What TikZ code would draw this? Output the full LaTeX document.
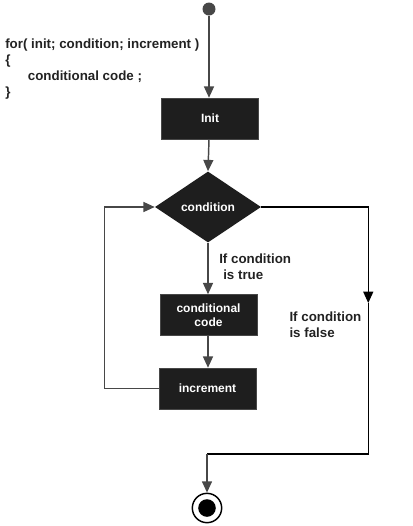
\documentclass[tikz,border=0pt]{standalone}
\usepackage{fontspec}
\setmainfont{Liberation Sans}
\usetikzlibrary{arrows.meta, shapes.geometric, calc}
\definecolor{boxgray}{HTML}{1E1E1E}
\definecolor{wiregray}{HTML}{474747}
\definecolor{textgray}{HTML}{222222}
\tikzset{
    my-box/.style={
        draw=wiregray, fill=boxgray, text=white, minimum width=72.75pt, minimum height=30.75pt,
        inner sep=0pt, align=center, font=\fontsize{9}{10.5}\selectfont\bfseries
    },
    my-decision/.style={
        diamond, fill=boxgray, text=white, minimum width=79.5pt, minimum height=53.25pt,
        inner sep=0pt, font=\fontsize{9}{10.5}\selectfont\bfseries
    },
    my-start/.style={
        fill=wiregray, shape=circle, minimum size=9.75pt, inner sep=0pt
    },
    my-stop/.style={
        draw=black, line width=1.1pt, fill=white, shape=circle, minimum size=22pt, inner sep=0pt,
        path picture={\fill[black] (path picture bounding box.center) circle (6.6pt);}
    },
    my-label/.style={
        text=textgray, inner sep=0pt, align=left, font=\fontsize{10}{12}\selectfont\bfseries
    },
    my-arrow/.style={
        draw=wiregray, line width=1.1pt, -{Triangle[length=8.5pt, width=7.5pt]}
    },
    my-line/.style={
        draw=wiregray, line width=1.1pt
    },
}
\begin{document}
\begin{tikzpicture}[x=0.75pt, y=-0.75pt]

        \useasboundingbox (0, 0) rectangle (412, 526);

        % CODE
        \node[my-label, anchor=west] (CODE) at (5, 69.5)
            {for( init; condition; increment )\\ \{\\ \hspace*{17pt}conditional code ;\\ \}};

        % START AND INIT
        \node[my-start] (START) at (209, 9)                   {};
        \node[my-box]   (INIT)  at ($(START) + (1, 109.5)$)  {Init};

        % CONDITION
        \node[my-decision] (COND) at ($(START) + (-1, 198)$) {condition};

        % LOOP BODY
        \node[my-box] (CODEBOX) at ($(COND) + (0.5, 108)$)    {conditional\\ code};
        \node[my-box] (INCR)    at ($(CODEBOX) + (-1, 73.5)$) {increment};

        % STOP
        \node[my-stop] (STOP) at ($(COND) + (-1, 301)$) {};

        % CONNECTOR POINTS
        \coordinate (LOOPL)     at ($(COND.west) + (-50, 0)$);
        \coordinate (FALSEMID)  at ($(COND.east) + (107, 96)$);
        \coordinate (FALSEEND)  at ($(FALSEMID) + (0, 151)$);

        % MAIN FLOW
        \draw[my-arrow] (START) -- (START |- INIT.north);
        \draw[my-arrow] (START |- INIT.south) -- (COND.north);
        \draw[my-arrow] (COND.south) -- (COND |- CODEBOX.north);
        \draw[my-arrow] (COND |- CODEBOX.south) -- (COND |- INCR.north);

        % LOOP BACK
        \draw[my-arrow] (INCR.west) -| (LOOPL) -- (COND.west);

        % FALSE BRANCH
        \draw[my-arrow, draw=black, line width=0.9pt] (COND.east) -| (FALSEMID);
        \draw[my-line, draw=black, line width=0.9pt] (FALSEMID) -- (FALSEEND) -- (FALSEEND -| STOP);
        \draw[my-arrow] (FALSEEND -| STOP) -- (STOP.north);

        % LABELS
        \node[my-label, anchor=west] (TRUELBL)  at ($(COND.south) + (11, 24)$)
            {If condition\\ \hspace*{3pt}is true};
        \node[my-label, anchor=west] (FALSELBL) at ($(FALSEMID) + (-79, 22)$)
            {If condition\\ is false};

    \end{tikzpicture}
\end{document}
